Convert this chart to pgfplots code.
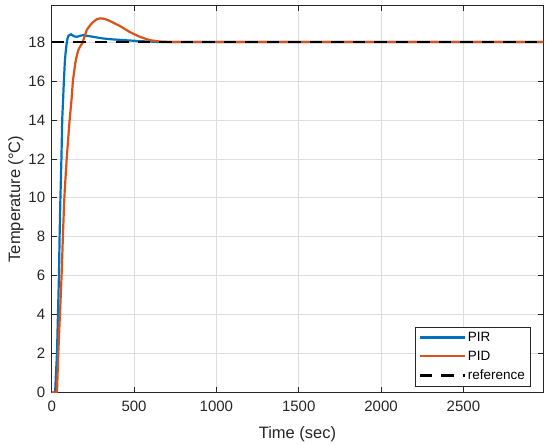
\documentclass[border=0pt]{standalone}
\usepackage{pgfplots}
\pgfplotsset{compat=1.18}
\usepackage{fontspec}
\setmainfont{Liberation Sans}
\definecolor{mblue}{rgb}{0,0.447,0.741}
\definecolor{morange}{rgb}{0.85,0.325,0.098}
\definecolor{axcol}{rgb}{0.15,0.15,0.15}
\definecolor{gridcol}{rgb}{0.87,0.87,0.87}
\begin{document}
\begin{tikzpicture}
\begin{axis}[
  scale only axis,
  width=491.6bp, height=386.6bp,
  xmin=0, xmax=2985, ymin=0, ymax=19.87,
  xtick={0,500,1000,1500,2000,2500},
  ytick={0,2,4,6,8,10,12,14,16,18},
  /pgf/number format/assume math mode=true,
  /pgf/number format/set thousands separator={},
  scaled x ticks=false,
  tick align=inside,
  major tick length=5bp,
  xmajorgrids, ymajorgrids,
  grid style={gridcol, line width=0.5bp},
  axis line style={axcol, line width=0.6bp},
  tick style={axcol, line width=0.6bp},
  every tick label/.append style={font=\fontsize{15bp}{17bp}\selectfont, text=axcol},
  xticklabel style={yshift=-5bp},
  yticklabel style={xshift=-3bp},
  xlabel={Time (sec)},
  ylabel={Temperature (°C)},
  label style={font=\fontsize{16.5bp}{18bp}\selectfont, text=axcol},
  xlabel style={yshift=-8bp},
  ylabel style={yshift=-2bp},
  legend style={at={(0.973,0.016)}, anchor=south east, draw=axcol,
    font=\fontsize{13.5bp}{15bp}\selectfont, text=black, row sep=4bp, inner xsep=3bp, inner ysep=3bp},
  legend cell align=left,
  legend image code/.code={\draw[#1] (0bp,0bp) -- (45bp,0bp);},
]
\addplot[mblue, line width=2.2bp, smooth, tension=0.3] coordinates {
(0,0) (20,0) (26,1) (32,2) (38,4) (44,6) (48,8) (53,10) (59,12) (64,14) (69,15) (74,16) (80,17) (85,17.5) (92,18) (100,18.3) (117,18.4) (135,18.3) (152,18.27) (172,18.32) (192,18.36) (215,18.32) (253,18.27) (300,18.2) (354,18.15) (455,18.09) (557,18.04) (650,18.01) (750,18) (2985,18)
};
\addlegendentry{PIR}
\addplot[morange, line width=2.2bp, smooth, tension=0.3] coordinates {
(0,0) (30,0) (34,0.5) (40,2) (50,4) (60,6) (68,8) (77,10) (91,12) (109,14) (120,15) (129,16) (145,17) (162,17.6) (188,18) (213,18.62) (243,18.96) (273,19.17) (298,19.22) (325,19.18) (354,19.08) (415,18.82) (476,18.51) (536,18.27) (597,18.1) (658,18.03) (720,18.005) (800,18) (2985,18)
};
\addlegendentry{PID}
\addplot[black, line width=2.5bp, dash pattern=on 12.5bp off 9bp] coordinates {(0,18) (2985,18)};
\addlegendentry{reference}
\end{axis}
\pgfresetboundingbox
\path[use as bounding box] ([shift={(-51.7bp,-53.7bp)}]current axis.south west) rectangle ([shift={(6.7bp,5.7bp)}]current axis.north east);
\end{tikzpicture}
\end{document}
